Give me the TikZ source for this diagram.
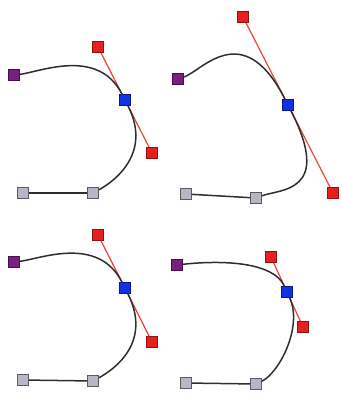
\documentclass[tikz,border=0pt]{standalone}
\usepackage{tikz}
\usetikzlibrary{positioning}
\definecolor{knotpurple}{HTML}{7A1E82}
\definecolor{knotblue}{HTML}{1230E6}
\definecolor{knotred}{HTML}{E8201C}
\definecolor{knotgrey}{HTML}{B6B6C6}
\definecolor{pathgrey}{HTML}{2E2E2E}

\begin{document}
\begin{tikzpicture}[
      x=1pt, y=-1pt,
      knot/.style={rectangle, minimum size=11pt, inner sep=0pt, line width=0.8pt},
      endknot/.style={knot, fill=knotpurple, draw=knotpurple!55!black},
      smoothknot/.style={knot, fill=knotblue, draw=knotblue!55!black},
      handleknot/.style={knot, fill=knotred, draw=knotred!60!black},
      cornerknot/.style={knot, fill=knotgrey, draw=knotgrey!50!black},
      curve/.style={line width=1.5pt, pathgrey},
      handleline/.style={line width=1.2pt, knotred!85!white}
    ]
    \useasboundingbox (0,0) rectangle (341,397);

    % top left
    \begin{scope}[shift={(14,75)}, name prefix=a-]
      \node[endknot] (start) at (0,0) {};
      \node[smoothknot] (mid) at (111,25) {};
      \node[handleknot] (hin) at (84,-28) {};
      \node[handleknot] (hout) at (138,78) {};
      \node[cornerknot] (corner) at (79,118) {};
      \node[cornerknot] (tail) at (9,118) {};
      \coordinate (cs) at (26,-3);
      \coordinate (ce) at (101,106);
      \draw[handleline] (hin) -- (mid) -- (hout);
      \draw[curve] (start) .. controls (cs) and (hin.center) .. (mid)
                           .. controls (hout.center) and (ce) .. (corner);
      \draw[curve] (corner) -- (tail);
    \end{scope}

    % top right
    \begin{scope}[shift={(178,79)}, name prefix=b-]
      \node[endknot] (start) at (0,0) {};
      \node[smoothknot] (mid) at (110,26) {};
      \node[handleknot] (hin) at (65,-62) {};
      \node[handleknot] (hout) at (155,114) {};
      \node[cornerknot] (corner) at (78,119) {};
      \node[cornerknot] (tail) at (8,115) {};
      \coordinate (cs) at (24,-8);
      \coordinate (ce) at (102,110);
      \draw[handleline] (hin) -- (mid) -- (hout);
      \draw[curve] (start) .. controls (cs) and (hin.center) .. (mid)
                           .. controls (hout.center) and (ce) .. (corner);
      \draw[curve] (corner) -- (tail);
    \end{scope}

    % bottom left
    \begin{scope}[shift={(14,262)}, name prefix=c-]
      \node[endknot] (start) at (0,0) {};
      \node[smoothknot] (mid) at (111,26) {};
      \node[handleknot] (hin) at (84,-27) {};
      \node[handleknot] (hout) at (138,80) {};
      \node[cornerknot] (corner) at (79,119) {};
      \node[cornerknot] (tail) at (9,118) {};
      \coordinate (cs) at (26,-3);
      \coordinate (ce) at (101,107);
      \draw[handleline] (hin) -- (mid) -- (hout);
      \draw[curve] (start) .. controls (cs) and (hin.center) .. (mid)
                           .. controls (hout.center) and (ce) .. (corner);
      \draw[curve] (corner) -- (tail);
    \end{scope}

    % bottom right
    \begin{scope}[shift={(177,265)}, name prefix=d-]
      \node[endknot] (start) at (0,0) {};
      \node[smoothknot] (mid) at (110,27) {};
      \node[handleknot] (hin) at (94,-8) {};
      \node[handleknot] (hout) at (126,62) {};
      \node[cornerknot] (corner) at (79,119) {};
      \node[cornerknot] (tail) at (9,118) {};
      \coordinate (cs) at (26,-3);
      \coordinate (ce) at (102,108);
      \draw[handleline] (hin) -- (mid) -- (hout);
      \draw[curve] (start) .. controls (cs) and (hin.center) .. (mid)
                           .. controls (hout.center) and (ce) .. (corner);
      \draw[curve] (corner) -- (tail);
    \end{scope}
  \end{tikzpicture}
\end{document}
